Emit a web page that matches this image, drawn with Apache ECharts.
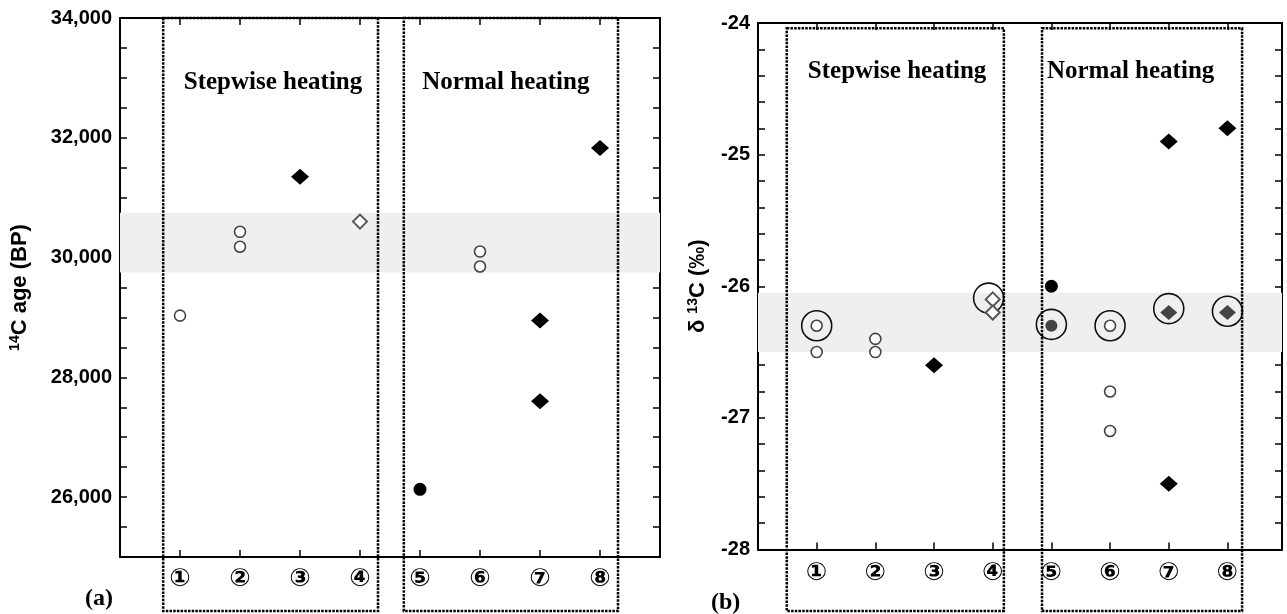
<!DOCTYPE html>
<html>
<head>
<meta charset="utf-8">
<script src="https://cdn.jsdelivr.net/npm/echarts@6/dist/echarts.min.js"></script>
<style>
  html, body { margin: 0; padding: 0; background: #fff; }
  #chart { width: 1287px; height: 614px; }
</style>
</head>
<body>
<div id="chart"></div>
<script>
// sample numbers on the x axis, group titles
const sampleLabels = ['①', '②', '③', '④', '⑤', '⑥', '⑦', '⑧'];
const groupNames = ['Stepwise heating', 'Normal heating'];

// (a) 14C age (BP)
const ageOpenCircle = [[1, 29030], [2, 30430], [2, 30180], [6, 30100], [6, 29850]];
const ageFilledDiamond = [[3, 31350], [7, 28950], [7, 27600], [8, 31830]];
const ageOpenDiamond = [[4, 30600]];
const ageFilledCircle = [[5, 26130]];
const ageBand = [29750, 30750];
const ageGroupSpan = [[0.72, 4.3], [4.73, 8.3]];
const ageGroupTitle = [[2.55, 32920], [6.43, 32920]];

// (b) delta 13C (permil)
const d13OpenCircle = [[1, -26.3], [1, -26.5], [2, -26.4], [2, -26.5], [6, -26.3], [6, -26.8], [6, -27.1]];
const d13FilledDiamond = [[3, -26.6], [7, -24.9], [7, -27.5], [8, -24.8]];
const d13OpenDiamond = [[4, -26.1], [4, -26.2]];
const d13FilledCircle = [[5, -26.0]];
const d13GrayCircle = [[5, -26.3]];
const d13GrayDiamond = [[7, -26.2], [8, -26.2]];
const d13Ring = [[1, -26.3], [3.93, -26.09], [5, -26.29], [6, -26.3], [7, -26.17], [8, -26.19]];
const d13Band = [-26.05, -26.5];
const d13GroupSpan = [[0.49, 4.19], [4.84, 8.25]];
const d13GroupTitle = [[2.37, -24.37], [6.35, -24.37]];

let chart = echarts.init(document.getElementById('chart'));

const tickStyle = { inside: true, length: 7, lineStyle: { color: '#000', width: 1.5 } };
const lineStyle = { onZero: false, lineStyle: { color: '#000', width: 2 } };

function xAxes(g, max, margin) {
  let base = {
    gridIndex: g, type: 'value', min: 0, max: max, interval: 1,
    axisLine: lineStyle, axisTick: tickStyle, splitLine: { show: false }
  };
  return [
    Object.assign({}, base, {
      position: 'bottom',
      axisLabel: {
        margin: margin, color: '#000', fontSize: 25, fontWeight: 'bold',
        fontFamily: '"DejaVu Sans", "Noto Sans CJK JP"',
        formatter: v => (Number.isInteger(v) && v >= 1 && v <= 8) ? sampleLabels[v - 1] : ''
      }
    }),
    Object.assign({}, base, { position: 'top', axisLabel: { show: false } })
  ];
}

function yAxes(g, min, max, interval, fmt, name, gap) {
  let base = {
    gridIndex: g, type: 'value', min: min, max: max, interval: interval,
    axisLine: lineStyle, axisTick: tickStyle, splitLine: { show: false }
  };
  return [
    Object.assign({}, base, {
      position: 'left',
      name: name, nameLocation: 'middle', nameGap: gap, nameRotate: 90,
      nameTextStyle: {
        color: '#000', fontSize: 22, fontWeight: 'bold', fontFamily: '"Liberation Sans", Arial',
        rich: { sup: { fontSize: 14, fontWeight: 'bold', verticalAlign: 'top', padding: [0, 0, 10, 0] } }
      },
      axisLabel: {
        margin: 8, color: '#000', fontSize: 20, fontWeight: 'bold',
        fontFamily: '"Liberation Sans", Arial', formatter: fmt
      }
    }),
    Object.assign({}, base, { position: 'right', axisLabel: { show: false } })
  ];
}

function dots(g, data, symbol, size, style) {
  return {
    type: 'scatter', xAxisIndex: 2 * g, yAxisIndex: 2 * g, data: data,
    symbol: symbol, symbolSize: size, itemStyle: Object.assign({ opacity: 1 }, style), z: 4, silent: true
  };
}

function band(g, range) {
  return {
    type: 'scatter', xAxisIndex: 2 * g, yAxisIndex: 2 * g, data: [], z: 1,
    markArea: {
      silent: true, itemStyle: { color: '#efefef' },
      data: [[{ yAxis: range[0] }, { yAxis: range[1] }]]
    }
  };
}

// dotted frames round each group, running down past the axis to the labels
function frames(g, spans, topVal) {
  return {
    type: 'custom', xAxisIndex: 2 * g, yAxisIndex: 2 * g, data: spans, clip: false, silent: true, z: 5,
    renderItem: (params, api) => {
      let a = api.coord([api.value(0), topVal]);
      let b = api.coord([api.value(1), topVal]);
      return {
        type: 'rect',
        shape: { x: a[0], y: a[1], width: b[0] - a[0], height: 611 - a[1] },
        style: { fill: 'none', stroke: '#000', lineWidth: 2.5, lineDash: [2.5, 1.2] }
      };
    }
  };
}

function titles(g, pos) {
  return {
    type: 'custom', xAxisIndex: 2 * g, yAxisIndex: 2 * g, data: pos, clip: false, silent: true, z: 6,
    renderItem: (params, api) => {
      let p = api.coord([api.value(0), api.value(1)]);
      return {
        type: 'text', x: p[0], y: p[1],
        style: {
          text: groupNames[params.dataIndex], fill: '#000',
          font: 'bold 25px "Liberation Serif", "Times New Roman", serif',
          align: 'center', verticalAlign: 'middle'
        }
      };
    }
  };
}

const openCircle = { color: '#fff', borderColor: '#444', borderWidth: 1.6 };
const openDiamond = { color: '#fff', borderColor: '#555', borderWidth: 2 };
const black = { color: '#000' };
const gray = { color: '#444' };
const ring = { color: 'transparent', borderColor: '#111', borderWidth: 1.6 };

let option = {
  animation: false,
  backgroundColor: '#fff',
  grid: [
    { left: 120, top: 18, width: 540, height: 539 },
    { left: 758, top: 23, width: 524, height: 526.5 }
  ],
  xAxis: [].concat(xAxes(0, 9, 10), xAxes(1, 8.93, 11)),
  yAxis: [].concat(
    yAxes(0, 25000, 34000, 500,
      v => (v % 2000 === 0 && v > 25000) ? v.toLocaleString('en-US') : '',
      '{sup|14}C age (BP)', 88),
    yAxes(1, -28, -24, 0.2,
      v => { let r = Math.round(v); return Math.abs(v - r) < 1e-6 ? String(r) : ''; },
      'δ {sup|13}C (‰)', 48)
  ),
  graphic: [
    { type: 'text', left: 85, top: 587, style: { text: '(a)', fill: '#000', font: 'bold 24px "Liberation Serif", serif' } },
    { type: 'text', left: 711, top: 591, style: { text: '(b)', fill: '#000', font: 'bold 24px "Liberation Serif", serif' } }
  ],
  series: [
    band(0, ageBand),
    dots(0, ageOpenCircle, 'circle', 11, openCircle),
    dots(0, ageFilledDiamond, 'diamond', [18, 16], black),
    dots(0, ageOpenDiamond, 'diamond', [14, 14], openDiamond),
    dots(0, ageFilledCircle, 'circle', 13, black),
    frames(0, ageGroupSpan, 34000),
    titles(0, ageGroupTitle),

    band(1, d13Band),
    dots(1, d13Ring, 'circle', 30, ring),
    dots(1, d13OpenCircle, 'circle', 11, openCircle),
    dots(1, d13FilledDiamond, 'diamond', [18, 16], black),
    dots(1, d13OpenDiamond, 'diamond', [14, 14], openDiamond),
    dots(1, d13FilledCircle, 'circle', 13, black),
    dots(1, d13GrayCircle, 'circle', 12, gray),
    dots(1, d13GrayDiamond, 'diamond', [17, 15], gray),
    frames(1, d13GroupSpan, -24.04),
    titles(1, d13GroupTitle)
  ]
};

chart.setOption(option);
</script>
</body>
</html>
